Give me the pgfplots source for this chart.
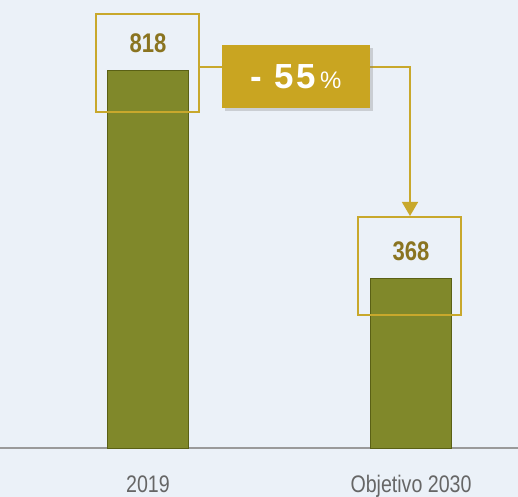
\documentclass[border=0pt]{standalone}
\usepackage{pgfplots}
\pgfplotsset{compat=1.18}
\usepackage{fontspec}
\setmainfont{Liberation Sans}
\newfontfamily\narrow[FakeStretch=0.82]{Liberation Sans}
\newfontfamily\spaced[LetterSpace=8]{Liberation Sans}
\usetikzlibrary{arrows.meta,shadows}
\definecolor{bg}{HTML}{EBF1F8}
\definecolor{barolive}{HTML}{80882A}
\definecolor{oliveedge}{HTML}{5A6015}
\definecolor{boxgold}{HTML}{C8A82C}
\definecolor{calloutgold}{HTML}{C9A521}
\definecolor{valgold}{HTML}{8A7420}
\definecolor{tickgray}{HTML}{666666}
\definecolor{axisgray}{HTML}{9A9A9A}
\begin{document}
\begin{tikzpicture}[x=1bp,y=1bp]
\path[use as bounding box, fill=bg] (0,-49) rectangle (518,448);
\begin{axis}[at={(0,0)}, anchor=south west, scale only axis, width=518bp, height=448bp,
  xmin=-0.5627, xmax=1.4068, ymin=0, ymax=972,
  axis x line=bottom, axis y line=none,
  x axis line style={-, draw=axisgray, line width=1.2pt},
  xtick={0,1}, xticklabels={2019, Objetivo 2030}, major tick length=0pt,
  xticklabel style={font=\narrow\fontsize{24}{24}\selectfont, text=tickgray, anchor=base, yshift=-44bp},
  ytick=\empty,
  /pgf/number format/assume math mode=true,
  ybar, bar width=81bp,
  nodes near coords,
  nodes near coords style={font=\narrow\bfseries\fontsize{27}{27}\selectfont, text=valgold, anchor=base, yshift=18bp},
  clip=false]
\addplot[fill=barolive, draw=oliveedge, line width=1pt] coordinates {(0,818) (1,368)};
\end{axis}
\draw[boxgold, line width=1.8bp] (96,336) rectangle (199,434);
\draw[boxgold, line width=1.8bp] (358,133) rectangle (461,231);
\draw[boxgold, line width=1.5bp, -{Triangle[width=16bp,length=14bp]}] (199,381) -- (410,381) -- (410,232);
\node[fill=calloutgold, minimum width=148bp, minimum height=63bp, inner sep=0pt,
  drop shadow={shadow xshift=3bp, shadow yshift=-3bp, opacity=0.3}, text=white]
  at (296,371.5) {{\spaced\fontsize{35}{35}\selectfont\bfseries - 55}{\fontsize{24}{24}\selectfont\,\%}};
\end{tikzpicture}
\end{document}
